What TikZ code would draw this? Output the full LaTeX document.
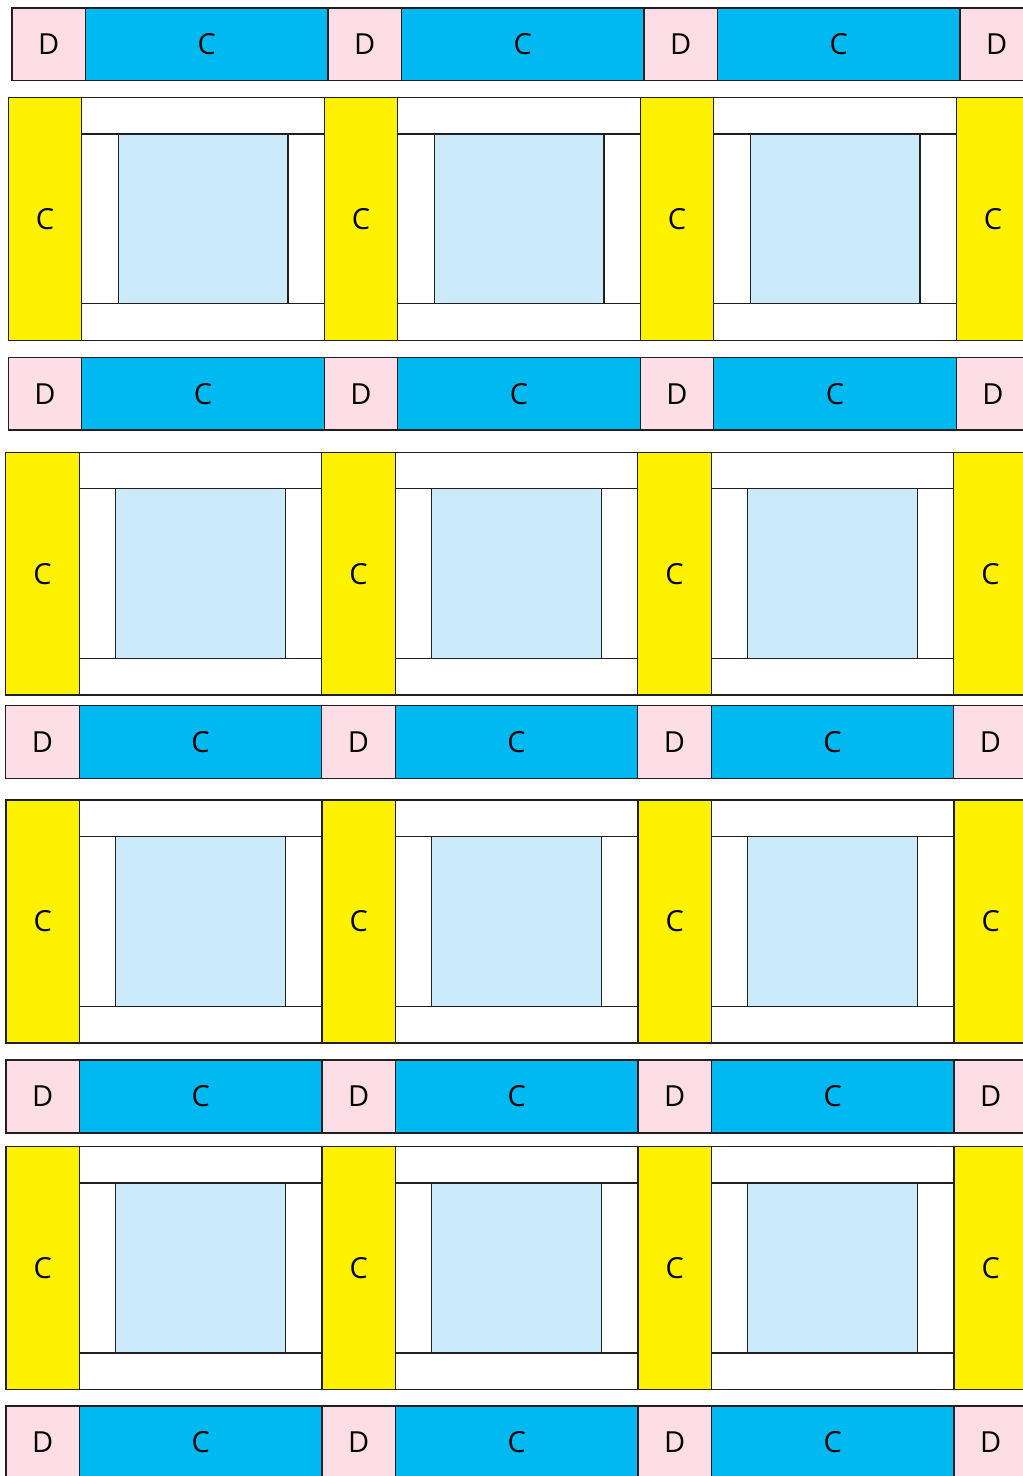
\documentclass[tikz,border=0pt]{standalone}
\usepackage{fontspec}
\setmainfont{Open Sans}
\usetikzlibrary{positioning}
\definecolor{PatchPink}{HTML}{FDDEE6}
\definecolor{SashBlue}{HTML}{00B9F0}
\definecolor{PostYellow}{HTML}{FFF200}
\definecolor{CentreBlue}{HTML}{CCEBFA}
\definecolor{SeamGrey}{HTML}{231F20}

\begin{document}
\begin{tikzpicture}[x=1pt, y=-1pt,
    seam/.style={draw=SeamGrey, line width=1.2pt},
    tag/.style={font=\fontsize{29}{30}\selectfont, inner sep=0pt}]
    \useasboundingbox (0,0) rectangle (1023,1476);
    \clip (0,0) rectangle (1023,1476);

    % sashing rows: pink D squares and blue C strips
    \foreach \xo/\yt/\yb [count=\row] in {12/8/80.5, 8.3/357.3/430, 5.7/705.7/778.7, 6/1060/1133, 6/1406/1479}{
        \foreach \k in {0,...,3}{
            \draw[seam, fill=PatchPink] (\xo+\k*316, \yt) rectangle (\xo+\k*316+73.5, \yb);
            \node[tag] (d-\row-\k) at (\xo+\k*316+36.75, {(\yt+\yb)/2}) {D};
        }
        \foreach \k in {0,...,2}{
            \draw[seam, fill=SashBlue] (\xo+\k*316+73.5, \yt) rectangle (\xo+\k*316+316, \yb);
            \node[tag] (c-\row-\k) at (\xo+\k*316+194.75, {(\yt+\yb)/2}) {C};
        }
    }

    % block rows: yellow C posts and framed blocks
    \foreach \xo/\yt/\yi/\yj/\yb [count=\row] in {8.3/97.3/134/303.7/340.3, 5.7/452.3/488.3/658.3/695, 6/800/836.5/1006.5/1043, 6/1146.7/1183/1353/1389.3}{
        \foreach \k in {0,...,3}{
            \draw[seam, fill=PostYellow] (\xo+\k*316, \yt) rectangle (\xo+\k*316+73.5, \yb);
            \node[tag] (post-\row-\k) at (\xo+\k*316+36.75, {(\yt+\yb)/2}) {C};
        }
        \foreach \k in {0,...,2}{
            \pgfmathsetmacro\bl{\xo+\k*316+73.5}
            \draw[seam, fill=white] (\bl, \yt) rectangle (\bl+242.5, \yi);
            \draw[seam, fill=white] (\bl, \yj) rectangle (\bl+242.5, \yb);
            \draw[seam, fill=white] (\bl, \yi) rectangle (\bl+36.3, \yj);
            \draw[seam, fill=white] (\bl+206.2, \yi) rectangle (\bl+242.5, \yj);
            \draw[seam, fill=CentreBlue] (\bl+36.3, \yi) rectangle (\bl+206.2, \yj);
        }
    }
\end{tikzpicture}
\end{document}
